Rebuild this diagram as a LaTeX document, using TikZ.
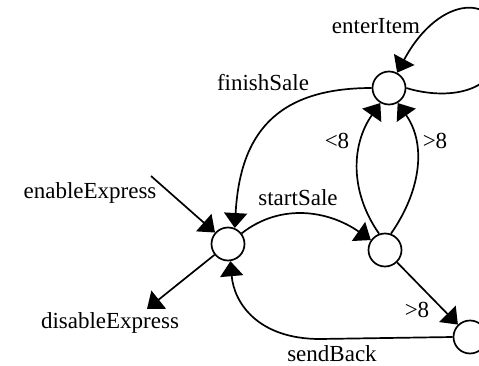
\documentclass[tikz,border=0pt]{standalone}
\usepackage{fontspec}
\setmainfont{Liberation Serif}
\usetikzlibrary{arrows.meta}
\begin{document}
\begin{tikzpicture}[x=1pt,y=1pt,
  state/.style={circle,draw,line width=1.7pt,minimum size=33pt,inner sep=0pt,fill=white},
  edge/.style={line width=1.7pt,-{Triangle[length=15pt,width=23pt]}},
  lbl/.style={anchor=base,inner sep=0pt,font=\fontsize{23}{26}\selectfont}]
\useasboundingbox (0,0) rectangle (479,365);
\clip (0,0) rectangle (479,365);
\node[state] (A) at (389,277) {};
\node[state] (B) at (228,121) {};
\node[state] (C) at (385,115) {};
\node[state] (D) at (470,28) {};
\coordinate (en) at (151,189);
\coordinate (dis) at (147,56);
\coordinate (sb) at (320,26);
% edges
\draw[edge] (en) -- (B);
\draw[edge] (B) -- (dis);
\draw[edge] (A.west) .. controls (275,277) and (240,230) .. (B.67);
\draw[edge] (B) to[out=38,in=145] (C);
\draw[edge] (C.110) to[out=125,in=235] (A.240);
\draw[edge] (C.70) to[out=55,in=-55] (A.-60);
\draw[edge] (A.east) .. controls (445,265) and (500,270) .. (500,320)
  .. controls (500,372) and (440,372) .. (A.62);
\draw[edge] (C) -- (D);
\draw[edge] (D.west) -- (sb) .. controls (258,26) and (234,62) .. (B.-82);
% labels
\node[lbl] (l1) at (376,331) {enterItem};
\node[lbl] (l2) at (263,275) {finishSale};
\node[lbl] (l3) at (90,167) {enableExpress};
\node[lbl] (l4) at (298,160) {startSale};
\node[lbl] (l5) at (337,217) {<8};
\node[lbl] (l6) at (435,217) {>8};
\node[lbl] (l7) at (110,37) {disableExpress};
\node[lbl] (l8) at (417,48) {>8};
\node[lbl] (l9) at (332,4) {sendBack};
\end{tikzpicture}
\end{document}
